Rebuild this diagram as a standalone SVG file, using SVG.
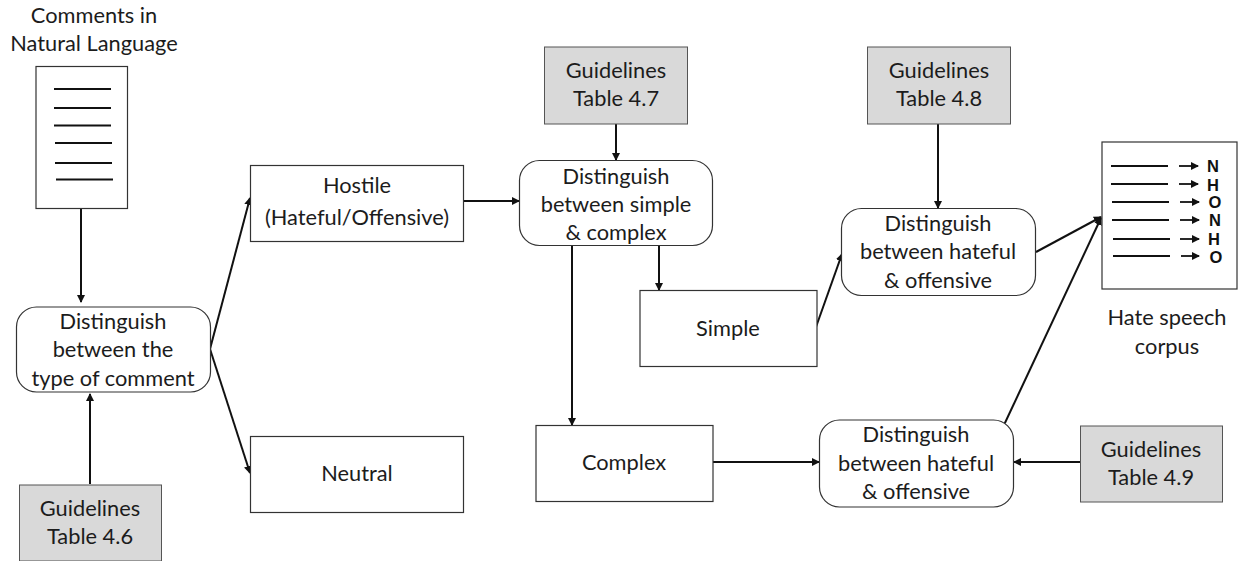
<svg xmlns="http://www.w3.org/2000/svg" width="1241" height="561" viewBox="0 0 1241 561">
<defs>
<style>
text{font-family:Lato,"Open Sans","Liberation Sans",sans-serif;font-size:21.800px;fill:#1c1c1c;text-anchor:middle}
.b{fill:#fff;stroke:#333;stroke-width:1.2}
.g{fill:#d9d9d9;stroke:#555;stroke-width:1}
.l{stroke:#111;stroke-width:2;fill:none}
.c{stroke:#111;stroke-width:2;fill:none;marker-end:url(#a)}
.s{stroke:#111;stroke-width:1.8;fill:none;marker-end:url(#a)}
.t{font-family:"Liberation Sans",Arial,sans-serif;font-weight:700;font-size:16.500px;fill:#111}
</style>
<marker id="a" markerUnits="userSpaceOnUse" markerWidth="9" markerHeight="9" refX="7" refY="4" orient="auto"><path d="M0 0L8 4L0 8Z" fill="#111"/></marker>
</defs>
<rect width="1241" height="561" fill="#fff"/>
<g id="connectors">
<path class="c" d="M81 200V302"/>
<path class="c" d="M90 484V394"/>
<path class="c" d="M210 349L250 198"/>
<path class="c" d="M210 349L250 473"/>
<path class="c" d="M464 201H519"/>
<path class="c" d="M616 124V160"/>
<path class="c" d="M659 246V290"/>
<path class="c" d="M572 246V425"/>
<path class="c" d="M816 327L842 254"/>
<path class="c" d="M938 124V208"/>
<path class="c" d="M1036 252L1101 217"/>
<path class="c" d="M1004 425L1101 218"/>
<path class="c" d="M713 462H819"/>
<path class="c" d="M1080 462H1014"/>
</g>
<g id="comments-label"><text x="94" y="23">Comments in</text><text x="94" y="51">Natural Language</text></g>
<g id="document"><rect class="b" x="36" y="66.500" width="91.500" height="142"/>
<path class="l" d="M54 89H111M54 108H111M54 125.500H111M55 143H112M55 163H112M56 179.500H113"/></g>
<g id="n-type"><rect class="b" x="16.500" y="307" width="194" height="85" rx="20"/><text x="113" y="329">Distinguish</text><text x="113" y="357">between the</text><text x="113" y="386">type of comment</text></g>
<g id="g46"><rect class="g" x="19.500" y="485" width="142" height="76"/><text x="90" y="516">Guidelines</text><text x="90" y="544">Table 4.6</text></g>
<g id="n-hostile"><rect class="b" x="250.500" y="165.500" width="213" height="76"/><text x="357" y="193">Hostile</text><text x="357" y="225">(Hateful/Offensive)</text></g>
<g id="n-neutral"><rect class="b" x="250.500" y="436.500" width="213" height="76"/><text x="357" y="481">Neutral</text></g>
<g id="g47"><rect class="g" x="544.500" y="47" width="143" height="77"/><text x="616" y="78">Guidelines</text><text x="616" y="106">Table 4.7</text></g>
<g id="n-simple-complex"><rect class="b" x="519.500" y="160.500" width="193" height="85" rx="20"/><text x="616" y="184">Distinguish</text><text x="616" y="212">between simple</text><text x="616" y="240">&amp; complex</text></g>
<g id="n-simple"><rect class="b" x="640" y="290.500" width="177" height="76"/><text x="728" y="336">Simple</text></g>
<g id="n-complex"><rect class="b" x="536" y="425.500" width="177" height="76"/><text x="624" y="470">Complex</text></g>
<g id="g48"><rect class="g" x="867.500" y="47" width="143" height="77"/><text x="939" y="78">Guidelines</text><text x="939" y="106">Table 4.8</text></g>
<g id="n-hateful-1"><rect class="b" x="841.500" y="208.500" width="194" height="87" rx="20"/><text x="938" y="231">Distinguish</text><text x="938" y="259">between hateful</text><text x="938" y="288">&amp; offensive</text></g>
<g id="n-hateful-2"><rect class="b" x="819.500" y="420" width="194" height="87" rx="20"/><text x="916" y="442">Distinguish</text><text x="916" y="471">between hateful</text><text x="916" y="499">&amp; offensive</text></g>
<g id="g49"><rect class="g" x="1080.500" y="426" width="142" height="76"/><text x="1151" y="457">Guidelines</text><text x="1151" y="485">Table 4.9</text></g>
<g id="corpus"><rect class="b" x="1102" y="142" width="135" height="147"/>
<path class="l" d="M1111 166H1168M1111 184H1168M1112 202H1169M1112 220H1169M1113 239H1170M1113 256H1170"/>
<path class="s" d="M1179 166H1198"/><path class="s" d="M1179 184H1198"/><path class="s" d="M1180 202H1199"/><path class="s" d="M1180 220H1199"/><path class="s" d="M1180 239H1199"/><path class="s" d="M1181 256H1199"/>
<text class="t" x="1213" y="172">N</text><text class="t" x="1213" y="191">H</text><text class="t" x="1215" y="208">O</text><text class="t" x="1215" y="226">N</text><text class="t" x="1214" y="245">H</text><text class="t" x="1216" y="263">O</text></g>
<g id="corpus-label"><text x="1167" y="325">Hate speech</text><text x="1167" y="354">corpus</text></g>
</svg>
